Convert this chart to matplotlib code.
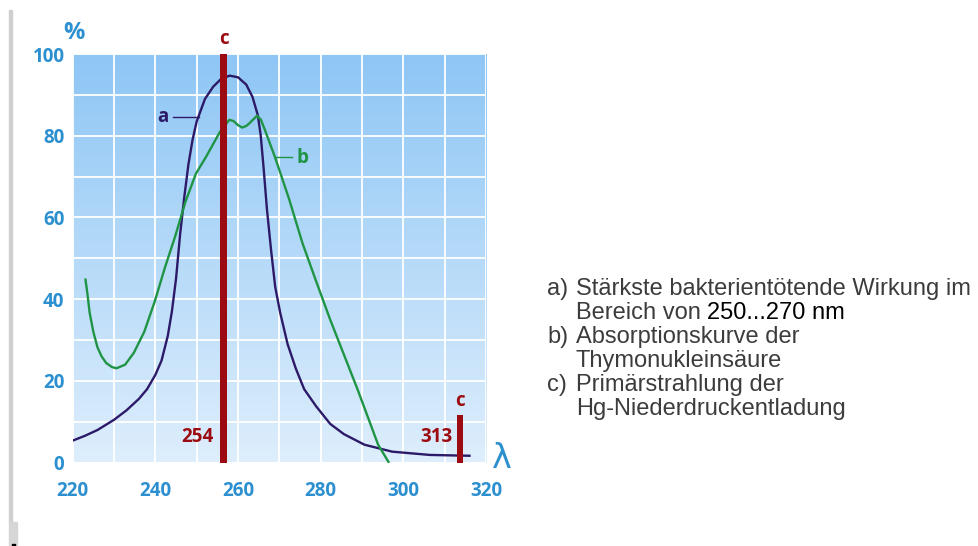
import numpy as np
import matplotlib
matplotlib.use('Agg')
import matplotlib.pyplot as plt
from matplotlib.colors import LinearSegmentedColormap
from matplotlib.patches import Rectangle

# wavelength (nm) / relative effect (%)
wl_a = [220, 223, 226, 230, 233, 236, 238, 240, 241.5, 243, 244, 245,
        246, 247, 248, 249, 250, 252, 254, 256, 258, 260, 262, 263.5,
        264.8, 265.5, 266.2, 267, 268, 269, 270.2, 272, 274, 276, 278.9,
        282.3, 285.6, 290.6, 297.3, 306.4, 316]
pct_a = [5.4, 6.6, 8.0, 10.5, 12.8, 15.6, 18.0, 21.5, 25, 31, 37, 45,
         56, 65, 73, 79, 83.5, 89, 92, 94, 94.7, 94.3, 92.5, 89.5,
         85, 80, 72, 62, 52, 43, 36.7, 29, 23, 18, 13.8,
         9.5, 7.0, 4.4, 2.7, 1.9, 1.7]

wl_b = [223.1, 223.6, 224.1, 225.0, 226.0, 227.0, 228.1, 229.5, 230.6,
        232.7, 234.8, 237.3, 239.8, 242.3, 244.8, 247.3, 249.8, 252.3,
        255.6, 257.9, 258.9, 260.0, 261.0, 262.0, 262.7, 264.6, 265.5,
        266.4, 268.9, 272.3, 275.6, 278.9, 282.3, 285.6, 288.9, 291.4,
        293.9, 296.4]
pct_b = [44.8, 41.0, 36.7, 32.0, 28.2, 26.0, 24.4, 23.4, 23.1,
         24.0, 26.9, 32.0, 39.3, 47.7, 55.4, 63.9, 70.7, 74.9,
         80.9, 83.9, 83.6, 82.6, 82.0, 82.4, 83.0, 84.9, 84.0,
         81.7, 74.9, 64.7, 53.7, 44.4, 35.0, 26.5, 18.0, 11.2,
         4.4, 0.2]

# Hg lines (position as drawn, label, bar height)
hg_pos = [256.5, 313.7]
hg_labels = ['254', '313']
hg_height = [100, 11.7]

xticks = [220, 240, 260, 280, 300, 320]
yticks = [0, 20, 40, 60, 80, 100]

legend_lines = [
    ('a)', 'Stärkste bakterientötende Wirkung im'),
    ('', 'Bereich von '),
    ('b)', 'Absorptionskurve der'),
    ('', 'Thymonukleinsäure'),
    ('c)', 'Primärstrahlung der'),
    ('', 'Hg-Niederdruckentladung'),
]

BLUE = '#2b8fd0'
RED = '#9c0b12'
PURPLE = '#2c1a68'
GREEN = '#1f9444'

fig = plt.figure(figsize=(9.79, 5.46), dpi=100)
W, H = 979., 546.
ax = fig.add_axes([72.7 / W, 1 - 462.7 / H, (486 - 72.7) / W, (462.7 - 54) / H])

# blue gradient background
cmap = LinearSegmentedColormap.from_list('bg', ['#deeefc', '#8ec6f5'])
grad = np.linspace(0, 1, 256).reshape(-1, 1)
ax.imshow(grad, cmap=cmap, origin='lower', extent=[220, 320, 0, 100],
          aspect='auto', zorder=0)

ax.set_xlim(220, 320)
ax.set_ylim(0, 100)
ax.set_xticks(np.arange(220, 321, 10))
ax.set_yticks(np.arange(0, 101, 10))
ax.grid(True, color='white', linewidth=1.3, zorder=1)
ax.set_axisbelow(False)
for s in ax.spines.values():
    s.set_visible(False)

ax.set_xticklabels([str(t) if t in xticks else '' for t in np.arange(220, 321, 10)])
ax.set_yticklabels([str(t) if t in yticks else '' for t in np.arange(0, 101, 10)])
ax.tick_params(length=0, labelcolor=BLUE)
ax.tick_params(axis='x', pad=13)
ax.tick_params(axis='y', pad=6)
for lab in ax.get_xticklabels() + ax.get_yticklabels():
    lab.set_fontfamily('Open Sans')
    lab.set_fontweight('bold')
    lab.set_fontsize(13.5)

ax.plot(wl_a, pct_a, color=PURPLE, linewidth=1.7, zorder=3)
ax.plot(wl_b, pct_b, color=GREEN, linewidth=1.7, zorder=3)

ax.bar(hg_pos, hg_height, width=1.5, color=RED, zorder=4)

bold = dict(fontfamily='Open Sans', fontweight='bold', fontsize=13.5)
ax.text(241.8, 84.7, 'a', color=PURPLE, ha='center', va='center', **bold)
ax.plot([244.3, 250.6], [84.5, 84.5], color=PURPLE, linewidth=1, zorder=3)
ax.text(275.6, 74.5, 'b', color=GREEN, ha='center', va='center', **bold)
ax.plot([268.9, 273.1], [74.9, 74.9], color=GREEN, linewidth=1, zorder=3)

ax.text(hg_pos[0], 103.6, 'c', color=RED, ha='center', va='center',
        clip_on=False, **bold)
ax.text(hg_pos[1], 15.2, 'c', color=RED, ha='center', va='center', **bold)
ax.text(254.0, 6.3, hg_labels[0], color=RED, ha='right', va='center', **bold)
ax.text(311.8, 6.3, hg_labels[1], color=RED, ha='right', va='center', **bold)

fig.text(74 / W, 1 - 33 / H, '%', color=BLUE, ha='center', va='center',
         fontfamily='Open Sans', fontweight='bold', fontsize=17)
fig.text(502 / W, 1 - 458 / H, 'λ', color=BLUE, ha='center', va='center',
         fontfamily='DejaVu Sans', fontsize=24)

# grey strip at the left edge (page border)
fig.patches.append(Rectangle((9 / W, 1 - 522 / H), 3.3 / W, 512 / H,
                             transform=fig.transFigure, color='#cfcfcf'))
fig.patches.append(Rectangle((9 / W, 0), 8 / W, 24 / H,
                             transform=fig.transFigure, color='#d6d6d6'))
fig.patches.append(Rectangle((12 / W, 0), 3 / W, 2.5 / H,
                             transform=fig.transFigure, color='black'))

# explanation text on the right
txt = dict(fontfamily='Liberation Sans', fontsize=17, color='#3c3c3c',
           va='center')
line_y = [289, 313, 337, 361, 385, 409]
renderer = fig.canvas.get_renderer()
for (tag, line), y in zip(legend_lines, line_y):
    if tag:
        fig.text(547 / W, 1 - y / H, tag, ha='left', **txt)
    t = fig.text(576 / W, 1 - y / H, line, ha='left', **txt)
    if line.startswith('Bereich'):
        bb = t.get_window_extent(renderer)
        fig.text(bb.x1 / W, 1 - y / H, '250...270 nm', ha='left',
                 fontfamily='Liberation Sans', fontsize=17, color='black',
                 va='center')

fig.savefig('out.png', dpi=100)
